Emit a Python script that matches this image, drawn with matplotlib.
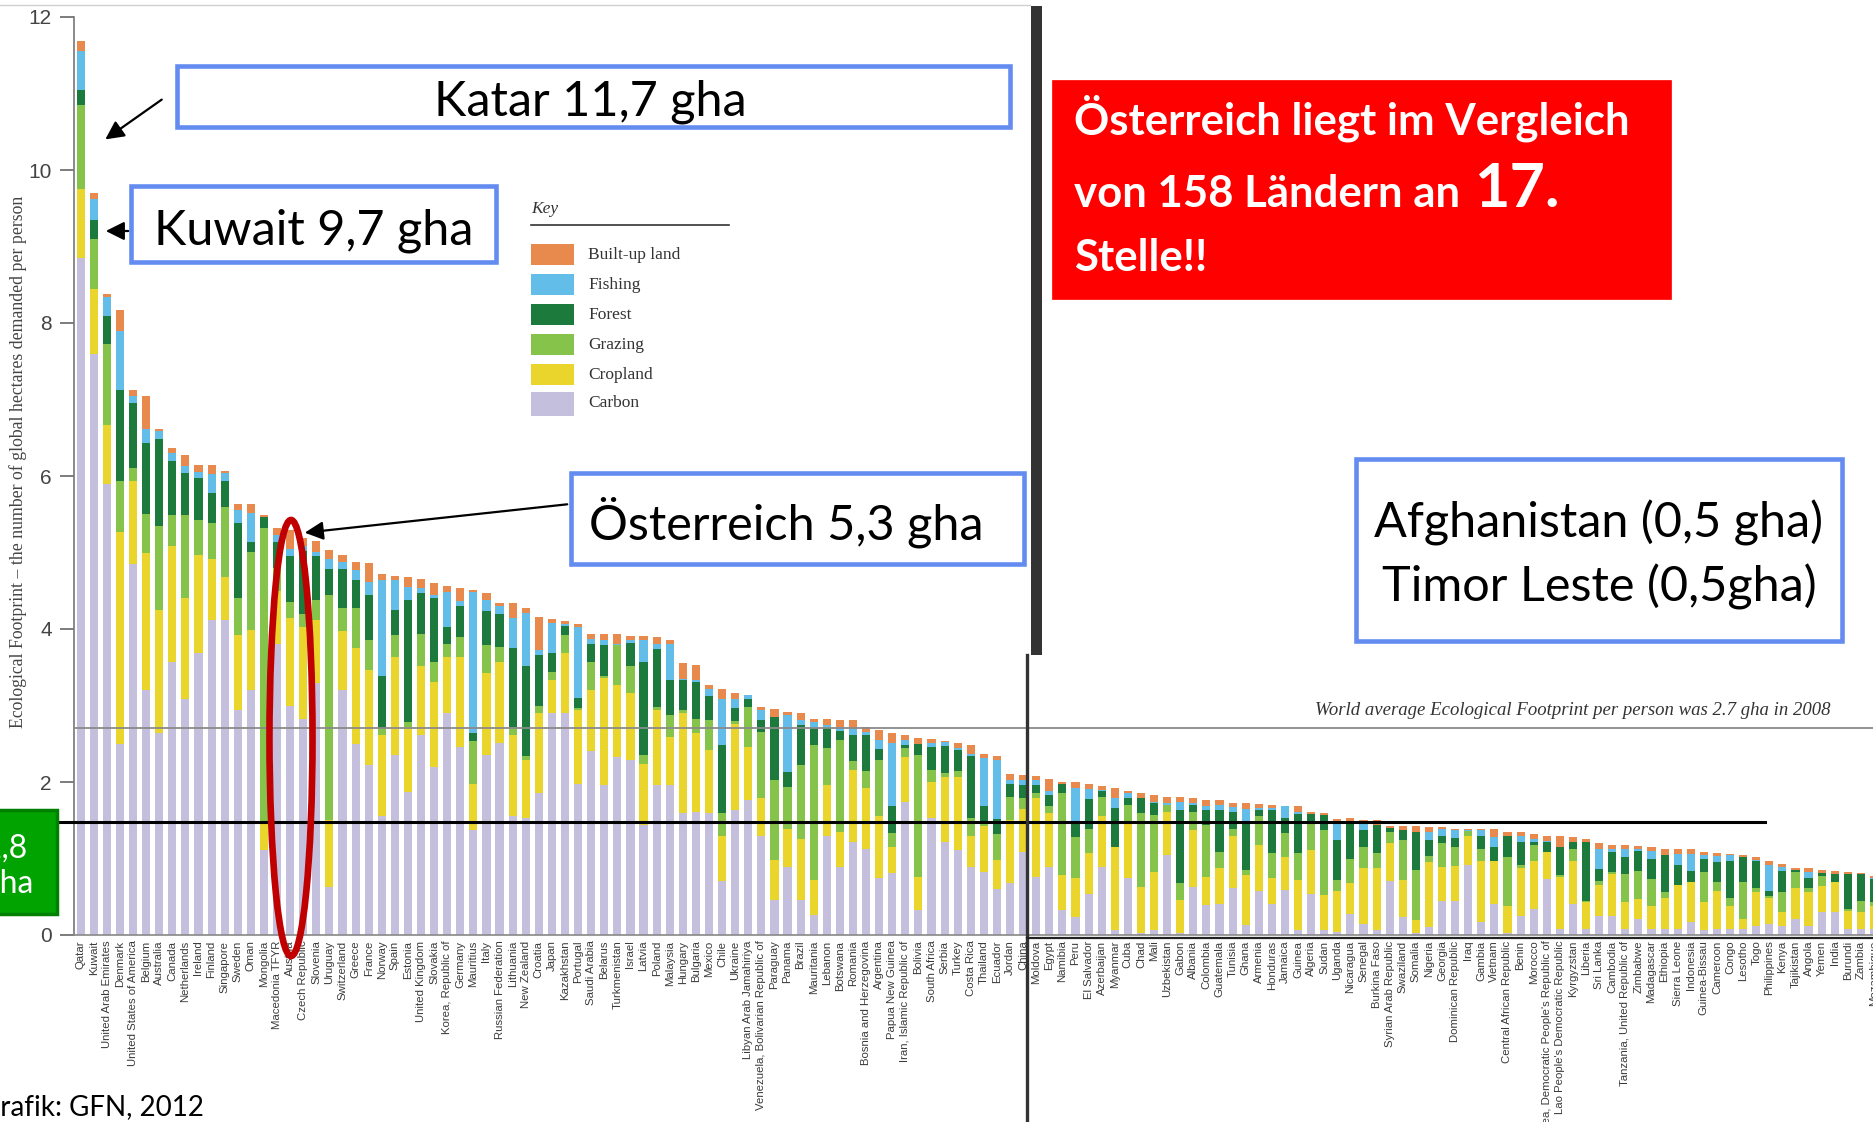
import matplotlib
matplotlib.use("Agg")
import matplotlib.pyplot as plt
from matplotlib.patches import Rectangle, Ellipse, FancyArrowPatch
from matplotlib.lines import Line2D
import numpy as np

# ---------------- data (gha per person, 2008) ----------------
countries = ["Qatar", "Kuwait", "United Arab Emirates", "Denmark", "United States of America",
             "Belgium", "Australia", "Canada", "Netherlands", "Ireland", "Finland", "Singapore",
             "Sweden", "Oman", "Mongolia", "Macedonia TFYR", "Austria", "Czech Republic",
             "Slovenia", "Uruguay", "Switzerland", "Greece", "France", "Norway", "Spain",
             "Estonia", "United Kingdom", "Slovakia", "Korea, Republic of", "Germany",
             "Mauritius", "Italy", "Russian Federation", "Lithuania", "New Zealand", "Croatia",
             "Japan", "Kazakhstan", "Portugal", "Saudi Arabia", "Belarus", "Turkmenistan",
             "Israel", "Latvia", "Poland", "Malaysia", "Hungary", "Bulgaria", "Mexico", "Chile",
             "Ukraine", "Libyan Arab Jamahiriya", "Venezuela, Bolivarian Republic of",
             "Paraguay", "Panama", "Brazil", "Mauritania", "Lebanon", "Botswana", "Romania",
             "Bosnia and Herzegovina", "Argentina", "Papua New Guinea",
             "Iran, Islamic Republic of", "Bolivia", "South Africa", "Serbia", "Turkey",
             "Costa Rica", "Thailand", "Ecuador", "Jordan", "China", "Moldova", "Egypt",
             "Namibia", "Peru", "El Salvador", "Azerbaijan", "Myanmar", "Cuba", "Chad", "Mali",
             "Uzbekistan", "Gabon", "Albania", "Colombia", "Guatemala", "Tunisia", "Ghana",
             "Armenia", "Honduras", "Jamaica", "Guinea", "Algeria", "Sudan", "Uganda",
             "Nicaragua", "Senegal", "Burkina Faso", "Syrian Arab Republic", "Swaziland",
             "Somalia", "Nigeria", "Georgia", "Dominican Republic", "Iraq", "Gambia", "Vietnam",
             "Central African Republic", "Benin", "Morocco",
             "Korea, Democratic People's Republic of", "Lao People's Democratic Republic",
             "Kyrgyzstan", "Liberia", "Sri Lanka", "Cambodia", "Tanzania, United Republic of",
             "Zimbabwe", "Madagascar", "Ethiopia", "Sierra Leone", "Indonesia", "Guinea-Bissau",
             "Cameroon", "Congo", "Lesotho", "Togo", "Philippines", "Kenya", "Tajikistan",
             "Angola", "Yemen", "India", "Burundi", "Zambia", "Mozambique"]

carbon = [8.85, 7.60, 5.90, 2.50, 4.85, 3.20, 2.64, 3.57, 3.09, 3.68, 4.12, 4.12, 2.94, 3.20,
          1.11, 3.81, 3.00, 2.83, 3.29, 0.63, 3.20, 2.50, 2.22, 1.55, 2.35, 1.87, 2.61, 2.20,
          2.90, 2.46, 1.37, 2.35, 2.51, 1.55, 1.53, 1.85, 2.90, 2.90, 1.98, 2.40, 1.96, 2.33,
          2.29, 1.44, 1.96, 1.96, 1.59, 1.61, 1.59, 0.70, 1.63, 1.76, 1.29, 0.46, 0.89, 0.46,
          0.26, 1.29, 0.89, 1.22, 1.13, 0.74, 0.81, 1.74, 0.33, 1.53, 1.22, 1.11, 0.89, 0.83,
          0.60, 0.68, 1.09, 0.76, 0.89, 0.33, 0.24, 0.54, 0.89, 0.07, 0.74, 0.03, 0.07, 1.05,
          0.02, 0.63, 0.39, 0.41, 0.61, 0.13, 0.57, 0.41, 0.59, 0.07, 0.54, 0.07, 0.04, 0.28,
          0.15, 0.07, 0.70, 0.24, 0.02, 0.11, 0.44, 0.45, 0.92, 0.17, 0.41, 0.03, 0.25, 0.34,
          0.73, 0.08, 0.41, 0.08, 0.25, 0.25, 0.08, 0.21, 0.08, 0.08, 0.08, 0.17, 0.06, 0.08,
          0.08, 0.08, 0.12, 0.14, 0.12, 0.21, 0.12, 0.30, 0.30, 0.08, 0.08, 0.08]
cropland = [0.90, 0.85, 0.77, 2.77, 1.08, 1.80, 1.61, 1.51, 1.31, 1.29, 0.80, 0.56, 0.98, 0.79,
            0.35, 0.69, 1.14, 1.20, 0.83, 0.87, 0.77, 1.25, 1.24, 1.06, 1.29, 0.85, 0.90, 1.11,
            0.74, 1.18, 0.61, 1.07, 1.06, 1.06, 0.76, 1.05, 0.43, 0.78, 0.96, 0.80, 1.40, 0.94,
            0.87, 0.80, 0.98, 0.63, 1.31, 1.03, 0.83, 0.59, 1.13, 0.70, 0.50, 0.52, 0.49, 0.80,
            0.46, 0.67, 0.46, 0.94, 0.79, 0.81, 0.34, 0.59, 0.43, 0.47, 0.85, 0.96, 0.40, 0.60,
            0.38, 0.82, 0.56, 1.03, 0.70, 0.45, 0.50, 0.53, 0.66, 1.08, 0.72, 0.60, 0.76, 0.56,
            0.44, 0.74, 0.37, 0.46, 0.68, 0.65, 0.61, 0.33, 0.43, 0.65, 0.57, 0.45, 0.53, 0.40,
            0.72, 0.80, 0.50, 0.48, 0.18, 0.85, 0.45, 0.45, 0.38, 0.80, 0.56, 0.35, 0.63, 0.63,
            0.35, 0.68, 0.56, 0.35, 0.40, 0.55, 0.35, 0.26, 0.30, 0.41, 0.57, 0.52, 0.37, 0.50,
            0.30, 0.13, 0.44, 0.35, 0.18, 0.41, 0.44, 0.34, 0.39, 0.24, 0.22, 0.30]
grazing = [1.10, 0.65, 1.06, 0.67, 0.17, 0.50, 1.09, 0.41, 1.09, 0.45, 0.46, 0.92, 0.48, 1.02,
           3.86, 0.30, 0.21, 0.17, 0.26, 2.94, 0.30, 0.52, 0.40, 0.09, 0.28, 0.07, 0.43, 0.26,
           0.17, 0.26, 0.55, 0.37, 0.20, 0.11, 0.05, 0.10, 0.11, 0.24, 0.03, 0.37, 0.02, 0.52,
           0.35, 0.11, 0.04, 0.29, 0.04, 0.19, 0.39, 0.30, 0.04, 0.52, 0.87, 1.05, 0.56, 0.96,
           1.76, 0.48, 1.20, 0.11, 0.22, 0.74, 0.18, 0.11, 1.59, 0.16, 0.05, 0.07, 0.24, 0.03,
           0.34, 0.31, 0.14, 0.06, 0.10, 1.07, 0.54, 0.32, 0.26, 0.00, 0.24, 0.96, 0.74, 0.09,
           0.22, 0.24, 0.68, 0.22, 0.10, 0.07, 0.37, 0.33, 0.31, 0.35, 0.37, 0.85, 0.15, 0.32,
           0.28, 0.20, 0.15, 0.52, 0.65, 0.07, 0.31, 0.25, 0.06, 0.15, 0.00, 0.64, 0.03, 0.20,
           0.00, 0.02, 0.15, 0.02, 0.06, 0.02, 0.37, 0.37, 0.35, 0.07, 0.00, 0.00, 0.39, 0.11,
           0.11, 0.48, 0.06, 0.02, 0.26, 0.20, 0.06, 0.13, 0.00, 0.02, 0.15, 0.05]
forest = [0.20, 0.25, 0.36, 1.19, 0.85, 0.93, 1.15, 0.71, 0.55, 0.56, 0.40, 0.33, 0.98, 0.13,
          0.15, 0.34, 0.61, 0.82, 0.57, 0.35, 0.52, 0.37, 0.58, 0.68, 0.33, 1.59, 0.53, 0.83,
          0.22, 0.40, 0.11, 0.44, 0.43, 1.03, 1.17, 0.66, 0.24, 0.12, 0.13, 0.24, 0.41, 0.00,
          0.31, 1.22, 0.76, 0.45, 0.39, 0.48, 0.31, 0.89, 0.17, 0.11, 0.15, 0.82, 0.19, 0.52,
          0.22, 0.26, 0.12, 0.35, 0.48, 0.14, 0.35, 0.04, 0.15, 0.30, 0.35, 0.28, 0.81, 0.22,
          0.19, 0.17, 0.17, 0.11, 0.14, 0.13, 0.18, 0.39, 0.07, 0.51, 0.09, 0.20, 0.15, 0.00,
          0.95, 0.09, 0.20, 0.55, 0.22, 0.63, 0.09, 0.57, 0.20, 0.51, 0.10, 0.20, 0.52, 0.48,
          0.22, 0.37, 0.05, 0.13, 0.50, 0.21, 0.09, 0.12, 0.00, 0.18, 0.18, 0.28, 0.30, 0.04,
          0.13, 0.37, 0.09, 0.76, 0.15, 0.26, 0.22, 0.26, 0.26, 0.49, 0.26, 0.15, 0.17, 0.27,
          0.48, 0.33, 0.35, 0.07, 0.28, 0.03, 0.13, 0.04, 0.11, 0.46, 0.35, 0.30]
fishing = [0.50, 0.27, 0.25, 0.77, 0.10, 0.18, 0.10, 0.10, 0.09, 0.07, 0.25, 0.11, 0.18, 0.37,
           0.00, 0.09, 0.09, 0.07, 0.06, 0.12, 0.09, 0.13, 0.18, 1.26, 0.39, 0.17, 0.07, 0.05,
           0.46, 0.06, 1.85, 0.15, 0.10, 0.39, 0.70, 0.07, 0.40, 0.02, 0.93, 0.06, 0.07, 0.02,
           0.04, 0.29, 0.07, 0.48, 0.02, 0.02, 0.09, 0.61, 0.12, 0.05, 0.13, 0.00, 0.75, 0.07,
           0.09, 0.05, 0.05, 0.07, 0.04, 0.12, 0.83, 0.07, 0.00, 0.05, 0.05, 0.02, 0.02, 0.63,
           0.78, 0.05, 0.07, 0.07, 0.05, 0.00, 0.46, 0.13, 0.02, 0.13, 0.07, 0.00, 0.02, 0.02,
           0.11, 0.02, 0.04, 0.06, 0.06, 0.17, 0.02, 0.02, 0.15, 0.03, 0.00, 0.00, 0.24, 0.01,
           0.10, 0.00, 0.00, 0.00, 0.00, 0.11, 0.09, 0.10, 0.01, 0.07, 0.13, 0.00, 0.09, 0.05,
           0.02, 0.00, 0.00, 0.00, 0.27, 0.05, 0.11, 0.02, 0.11, 0.00, 0.15, 0.22, 0.05, 0.07,
           0.07, 0.00, 0.01, 0.33, 0.05, 0.00, 0.07, 0.00, 0.00, 0.00, 0.00, 0.02]
builtup = [0.13, 0.08, 0.04, 0.27, 0.07, 0.43, 0.03, 0.06, 0.14, 0.10, 0.12, 0.02, 0.08, 0.12,
           0.02, 0.09, 0.24, 0.10, 0.14, 0.12, 0.09, 0.11, 0.24, 0.08, 0.05, 0.13, 0.12, 0.15,
           0.07, 0.17, 0.02, 0.09, 0.04, 0.20, 0.06, 0.43, 0.05, 0.04, 0.04, 0.06, 0.07, 0.12,
           0.05, 0.05, 0.08, 0.05, 0.20, 0.20, 0.06, 0.12, 0.07, 0.00, 0.04, 0.10, 0.04, 0.09,
           0.04, 0.07, 0.09, 0.12, 0.06, 0.13, 0.13, 0.06, 0.07, 0.05, 0.02, 0.07, 0.12, 0.06,
           0.05, 0.07, 0.06, 0.05, 0.16, 0.02, 0.08, 0.07, 0.05, 0.13, 0.02, 0.06, 0.09, 0.09,
           0.06, 0.07, 0.09, 0.06, 0.06, 0.07, 0.05, 0.04, 0.01, 0.08, 0.03, 0.03, 0.04, 0.04,
           0.03, 0.06, 0.02, 0.05, 0.07, 0.06, 0.03, 0.02, 0.02, 0.01, 0.10, 0.04, 0.04, 0.06,
           0.07, 0.15, 0.07, 0.05, 0.07, 0.05, 0.05, 0.04, 0.05, 0.07, 0.06, 0.06, 0.04, 0.04,
           0.02, 0.03, 0.04, 0.06, 0.04, 0.03, 0.05, 0.04, 0.04, 0.02, 0.01, 0.02]

layers = [("Carbon", carbon), ("Cropland", cropland), ("Grazing", grazing),
          ("Forest", forest), ("Fishing", fishing), ("Built-up land", builtup)]
layer_colors = {"Built-up land": "#E8894E", "Fishing": "#62BDE9", "Forest": "#1B7A3C",
                "Grazing": "#86C34B", "Cropland": "#E9D52B", "Carbon": "#C3BFDD"}
legend_order = ["Built-up land", "Fishing", "Forest", "Grazing", "Cropland", "Carbon"]
yticks = [0, 2, 4, 6, 8, 10, 12]
world_average = 2.7

# ---------------- figure ----------------
W, H = 1874, 1122
fig = plt.figure(figsize=(W / 100, H / 100), dpi=100)
fig.patch.set_facecolor("white")


def fx(px):
    return px / W


def fy(py):
    return 1 - py / H


ax = fig.add_axes([fx(74), fy(935), 1800 / W, 918 / H])
x = np.arange(len(countries))
bottom = np.zeros(len(countries))
for name, vals in layers:
    vals = np.asarray(vals)
    ax.bar(x, vals, width=0.62, bottom=bottom, color=layer_colors[name],
           linewidth=0, zorder=2)
    bottom += vals

ax.set_xlim(-0.51, 136.9)
ax.set_ylim(0, 12)
ax.axhline(world_average, color="#8a8a8a", lw=1.3, zorder=3)

for s in ["top", "right"]:
    ax.spines[s].set_visible(False)
ax.spines["left"].set_color("#777777")
ax.spines["bottom"].set_color("#888888")
ax.spines["left"].set_linewidth(1.2)
ax.spines["bottom"].set_linewidth(1.2)

ax.set_yticks(yticks)
ax.set_yticklabels([str(t) for t in yticks], family="Liberation Sans", fontsize=15,
                   color="#444444")
ax.tick_params(axis="y", length=10, width=1.2, color="#666666", pad=6)
ax.set_xticks(x)
ax.set_xticklabels(countries, rotation=90, family="Liberation Sans", fontsize=8.2,
                   color="#3a3a3a")
ax.tick_params(axis="x", length=0, pad=4)

fig.text(fx(18), fy(462), "Ecological Footprint – the number of global hectares demanded per person",
         rotation=90, ha="center", va="center", family="Liberation Serif", fontsize=12.8,
         color="#444444")

# world average text
fig.text(fx(1831), fy(715), "World average Ecological Footprint per person was 2.7 gha in 2008",
         ha="right", va="baseline", family="Liberation Serif", style="italic",
         fontsize=13.5, color="#333333")

# ---------------- legend (Key) ----------------
fig.text(fx(531), fy(213), "Key", family="Liberation Serif", style="italic", fontsize=12.5,
         color="#333333", va="baseline")
fig.add_artist(Line2D([fx(531), fx(729)], [fy(225), fy(225)], transform=fig.transFigure,
                      color="#333333", lw=1.2))
for k, name in enumerate(legend_order):
    top = 244 + 30 * k - (2 if k == 5 else 0)
    h = 21 if k < 5 else 24
    fig.add_artist(Rectangle((fx(531), fy(top + h)), 43 / W, h / H, transform=fig.transFigure,
                             facecolor=layer_colors[name], edgecolor="none", zorder=5))
    fig.text(fx(588), fy(top + 15), name, family="Liberation Serif", fontsize=12.5,
             color="#333333", va="baseline", zorder=6)

# ---------------- overlays ----------------
BLUE = "#648CF0"
FONT = "Lato"


def box(x0, y0, x1, y1, fc="white", ec=BLUE, lw=3.3):
    fig.add_artist(Rectangle((fx(x0), fy(y1)), (x1 - x0) / W, (y1 - y0) / H,
                             transform=fig.transFigure, facecolor=fc, edgecolor=ec,
                             linewidth=lw, zorder=10, clip_on=False))


def arrow(x0, y0, x1, y1):
    fig.add_artist(FancyArrowPatch((fx(x0), fy(y0)), (fx(x1), fy(y1)),
                                   transform=fig.transFigure, arrowstyle="-|>",
                                   mutation_scale=28, color="black", lw=1.6, zorder=12))


# Katar
box(177, 66, 1010, 127)
fig.text(fx(590), fy(116), "Katar 11,7 gha", ha="center", va="baseline", family=FONT,
         fontsize=35, color="black", zorder=11)
arrow(164, 98, 103, 141)

# Kuwait
box(131, 186, 496, 262)
fig.text(fx(314), fy(244), "Kuwait 9,7 gha", ha="center", va="baseline", family=FONT,
         fontsize=35, color="black", zorder=11)
arrow(131, 231, 103, 231)

# Austria
box(571, 473, 1024, 564)
fig.text(fx(786), fy(540), "Österreich 5,3 gha", ha="center", va="baseline", family=FONT,
         fontsize=35, color="black", zorder=11)
arrow(570, 504, 302, 533)
fig.add_artist(Ellipse((fx(291), fy(738)), 43 / W, 436 / H, transform=fig.transFigure,
                       facecolor="none", edgecolor="#C00000", linewidth=4.8, zorder=11))

# Afghanistan / Timor Leste
box(1356, 459, 1842, 641)
fig.text(fx(1599), fy(538), "Afghanistan (0,5 gha)", ha="center", va="baseline",
         family=FONT, fontsize=35, color="black", zorder=11)
fig.text(fx(1599), fy(601), "Timor Leste (0,5gha)", ha="center", va="baseline",
         family=FONT, fontsize=35, color="black", zorder=11)

# red box
box(1052, 80, 1671, 299, fc="#FF0000", ec="#FF0000", lw=0.5)
fig.text(fx(1074), fy(135), "Österreich liegt im Vergleich", ha="left", va="baseline",
         family=FONT, weight="bold", fontsize=31.5, color="white", zorder=11)
line2 = fig.text(fx(1074), fy(207), "von 158 Ländern an", ha="left", va="baseline",
                 family=FONT, weight="bold", fontsize=31.5, color="white", zorder=11)
renderer = fig.canvas.get_renderer()
bb = line2.get_window_extent(renderer=renderer)
fig.text((bb.x1 + 14) / W, fy(207), "17.", ha="left", va="baseline",
         family=FONT, weight="bold", fontsize=44, color="white", zorder=11)
fig.text(fx(1074), fy(271), "Stelle!!", ha="left", va="baseline",
         family=FONT, weight="bold", fontsize=31.5, color="white", zorder=11)

# biocapacity line and green box
fig.add_artist(Line2D([fx(58), fx(1765)], [fy(822), fy(822)], transform=fig.transFigure,
                      color="black", lw=2.2, zorder=9))
box(-40, 810, 57, 914, fc="#00A300", ec="#008000", lw=2.5)
fig.text(fx(-17), fy(858), "1,8", ha="left", va="baseline", family=FONT, fontsize=23,
         color="white", zorder=11)
fig.text(fx(-17), fy(893), "gha", ha="left", va="baseline", family=FONT, fontsize=23,
         color="white", zorder=11)

# vertical separators
fig.add_artist(Rectangle((fx(1031), fy(655)), 11 / W, 649 / H, transform=fig.transFigure,
                         facecolor="#333333", edgecolor="none", zorder=9))
fig.add_artist(Line2D([fx(1027), fx(1027)], [fy(655), fy(1122)], transform=fig.transFigure,
                      color="#333333", lw=2.4, zorder=9))
fig.add_artist(Line2D([fx(1027), fx(1874)], [fy(938), fy(938)], transform=fig.transFigure,
                      color="#222222", lw=1.6, zorder=9))
fig.add_artist(Line2D([fx(0), fx(1030)], [fy(5), fy(5)], transform=fig.transFigure,
                      color="#d0d0d0", lw=1.0, zorder=9))

# source
fig.text(fx(-20), fy(1115), "Grafik: GFN, 2012", ha="left", va="baseline", family=FONT,
         fontsize=20, color="black", zorder=11)

fig.savefig("out.png", dpi=100, facecolor="white")
